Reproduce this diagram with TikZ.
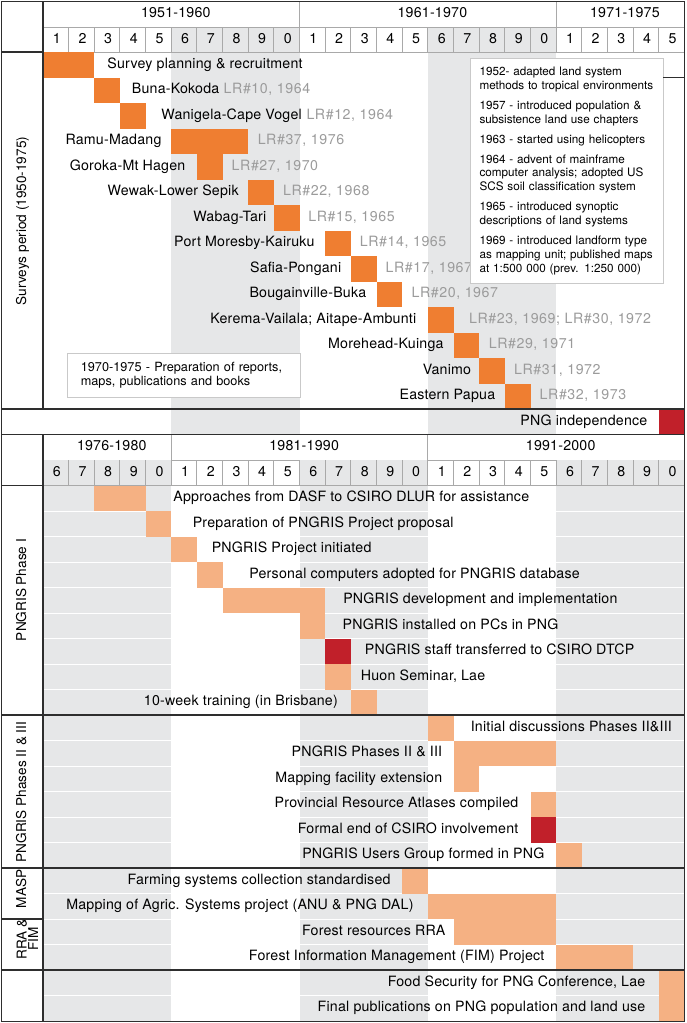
\documentclass[tikz,border=0pt]{standalone}
\usepackage{fontspec}
\setmainfont{TeX Gyre Heros}
\newfontfamily\chartfont[LetterSpace=1.5]{TeX Gyre Heros}
\newfontfamily\reffont[LetterSpace=4]{TeX Gyre Heros}
\usetikzlibrary{positioning}
\definecolor{surveyorange}{HTML}{EF7E31}
\definecolor{eventorange}{HTML}{F5B183}
\definecolor{keyred}{HTML}{C1202A}
\definecolor{bandgrey}{HTML}{E6E7E8}
\definecolor{framegrey}{HTML}{2E2E2E}
\definecolor{cellgrey}{HTML}{A9A9A9}
\definecolor{refgrey}{HTML}{9B9B9B}
\definecolor{boxgrey}{HTML}{C9C9C9}
\tikzset{bar/.style={inner sep=0pt,
                     outer sep=0pt,
                     minimum height=25.5pt,
                     anchor=north west}}
\tikzset{lbl/.style={inner sep=0pt,
                     text height=10.2pt,
                     text depth=3pt,
                     font=\chartfont\fontsize{14.2}{16}\selectfont}}
\tikzset{reflbl/.style={lbl,
                        text=refgrey,
                        font=\reffont\fontsize{14.2}{16}\selectfont}}
\tikzset{period/.style={lbl,
                        rotate=90,
                        font=\fontsize{13.6}{12}\selectfont}}
\tikzset{sectionline/.style={draw=framegrey,line width=1.6pt}}
\tikzset{cell/.style={draw=cellgrey,line width=1pt}}
\tikzset{notebox/.style={draw=boxgrey,
                         fill=white,
                         line width=1pt,
                         align=left}}
\newcommand{\cw}{25.66}

\begin{document}
\begin{tikzpicture}[x=1pt,y=-1pt]
      \useasboundingbox (0,0) rectangle (687,1023);

      % grey bands
      \foreach \ca/\cb in {6/10,16/20}
      \fill[bandgrey] ({43+(\ca-1)*\cw},27) rectangle ({43+\cb*\cw},434.5);
      \foreach \ca/\cb in {1/5,11/15,21/25}
      \fill[bandgrey] ({43+(\ca-1)*\cw},460) rectangle ({43+\cb*\cw},1021.5);

      \foreach \rw in {18,...,37}
      \draw[white,line width=0.6pt] (43,{52+\rw*25.5}) -- (684.5,{52+\rw*25.5});

      % year cells
      \foreach \col in {1,...,26}
      {
      \draw[cell] ({43+(\col-1)*\cw},27) -- ++(0,25);
      \draw[cell] ({43+(\col-1)*\cw},460) -- ++(0,25.5);
      }
      \draw[cell] (43,27) -- (684.5,27);
      \draw[cell] (43,52) -- (684.5,52);
      \draw[cell] ({43+5*\cw},460) -- ({43+10*\cw},460);
      \draw[cell] ({43+15*\cw},460) -- ({43+20*\cw},460);
      \draw[cell] (43,485.5) -- (684.5,485.5);
      \foreach \col in {10,20}
      \draw[cell] ({43+\col*\cw},1.5) -- ++(0,25.5);
      \foreach \col in {5,15}
      \draw[cell] ({43+\col*\cw},434.5) -- ++(0,25.5);

      \foreach \col in {1,...,25}
      {
      \pgfmathtruncatemacro{\dg}{mod(\col,10)}
      \pgfmathtruncatemacro{\dh}{mod(\col+5,10)}
      \node[lbl] (Y\col) at ({43+(\col-0.5)*\cw+1},39.5) {\dg};
      \node[lbl] (Z\col) at ({43+(\col-0.5)*\cw+1},472.75) {\dh};
      }

      % decades
      \foreach \nm/\xc/\yc/\txt in
      {
      D1/175.8/14.2/1951-1960,
      D2/432.4/14.2/1961-1970,
      D3/624.9/14.2/1971-1975,
      E1/111.8/447.25/1976-1980,
      E2/304.1/447.25/1981-1990,
      E3/560.7/447.25/1991-2000
      }
      {
      \node[lbl] (\nm) at (\xc,\yc) {\txt};
      }

      % survey bars
      \foreach \rw/\ca/\cb in {0/1/2, 1/3/3, 2/4/4, 3/6/8, 4/7/7, 5/9/9, 6/10/10,
        7/12/12, 8/13/13, 9/14/14, 10/16/16, 11/17/17, 12/18/18, 13/19/19}
      {
      \node[bar,fill=surveyorange,minimum width={(\cb-\ca+1)*\cw*1pt}] (S\rw)
        at ({43+(\ca-1)*\cw},{52+\rw*25.5}) {};
      }
      \node[bar,fill=keyred,minimum width={\cw*1pt}] (S14) at ({43+24*\cw},{52+14*25.5}) {};

      \foreach \rw/\gap/\txt in
      {
      0/12.9pt/{Survey planning \& recruitment},
      1/11.7pt/Buna-Kokoda,
      2/15.6pt/Wanigela-Cape Vogel
      }
      {
      \node[lbl,right=\gap of S\rw] (SL\rw) {\txt};
      }

      \foreach \rw/\gap/\txt in
      {
      3/9.7pt/Ramu-Madang,
      4/11.4pt/Goroka-Mt Hagen,
      5/9.4pt/Wewak-Lower Sepik,
      6/7.4pt/Wabag-Tari,
      7/10.5pt/Port Moresby-Kairuku,
      8/9.5pt/Safia-Pongani,
      9/10.1pt/Bougainville-Buka,
      10/11.5pt/{Kerema-Vailala; Aitape-Ambunti},
      11/9.9pt/Morehead-Kuinga,
      12/7.9pt/Vanimo,
      13/9.5pt/Eastern Papua,
      14/11.3pt/PNG independence
      }
      {
      \node[lbl,left=\gap of S\rw] (SL\rw) {\txt};
      }

      % land research reports
      \node[reflbl,right=4pt of SL1] (SR1) {LR\#10, 1964};
      \node[reflbl,right=4.3pt of SL2] (SR2) {LR\#12, 1964};
      \foreach \rw/\gap/\txt in
      {
      3/9.3pt/{LR\#37, 1976},
      4/8.9pt/{LR\#27, 1970},
      5/8.9pt/{LR\#22, 1968},
      6/8.5pt/{LR\#15, 1965},
      7/8.8pt/{LR\#14, 1965},
      8/8.9pt/{LR\#17, 1967},
      9/9.2pt/{LR\#20, 1967},
      10/15.4pt/{LR\#23, 1969; LR\#30, 1972},
      11/9.4pt/{LR\#29, 1971},
      12/9.1pt/{LR\#31, 1972},
      13/9pt/{LR\#32, 1973}
      }
      {
      \node[reflbl,right=\gap of S\rw] (SR\rw) {\txt};
      }

      % project bars
      \foreach \rw/\ca/\cb/\fc in {17/3/4/eventorange, 18/5/5/eventorange,
        19/6/6/eventorange, 20/7/7/eventorange, 21/8/11/eventorange,
        22/11/11/eventorange, 23/12/12/keyred, 24/12/12/eventorange,
        25/13/13/eventorange, 26/16/16/eventorange, 27/17/20/eventorange,
        28/17/17/eventorange, 29/20/20/eventorange, 30/20/20/keyred,
        31/21/21/eventorange, 32/15/15/eventorange, 33/16/20/eventorange,
        34/17/20/eventorange, 35/21/23/eventorange, 36/25/25/eventorange,
        37/25/25/eventorange}
      {
      \node[bar,fill=\fc,minimum width={(\cb-\ca+1)*\cw*1pt}] (P\rw)
        at ({43+(\ca-1)*\cw},{52+\rw*25.5}) {};
      }

      \foreach \rw/\gap/\txt in
      {
      17/27.6pt/Approaches from DASF to CSIRO DLUR for assistance,
      18/21.3pt/Preparation of PNGRIS Project proposal,
      19/14.6pt/PNGRIS Project initiated,
      20/26.5pt/Personal computers adopted for PNGRIS database,
      21/17.8pt/PNGRIS development and implementation,
      22/17.2pt/PNGRIS installed on PCs in PNG,
      23/13.8pt/PNGRIS staff transferred to CSIRO DTCP,
      24/9.8pt/{Huon Seminar, Lae},
      26/17pt/Initial discussions Phases II\&III
      }
      {
      \node[lbl,right=\gap of P\rw] (PL\rw) {\txt};
      }

      \foreach \rw/\gap/\txt in
      {
      25/12.9pt/10-week training (in Brisbane),
      27/11.2pt/PNGRIS Phases II \& III,
      28/11.2pt/Mapping facility extension,
      29/12pt/Provincial Resource Atlases compiled,
      30/12pt/Formal end of CSIRO involvement,
      31/11.6pt/PNGRIS Users Group formed in PNG,
      32/11.5pt/Farming systems collection standardised,
      33/14.2pt/Mapping of Agric. Systems project (ANU \& PNG DAL),
      34/7.9pt/Forest resources RRA,
      35/11.6pt/Forest Information Management (FIM) Project,
      36/13.3pt/{Food Security for PNG Conference, Lae},
      37/13.3pt/Final publications on PNG population and land use
      }
      {
      \node[lbl,left=\gap of P\rw] (PL\rw) {\txt};
      }

      % notes
      \node[notebox,anchor=north west,text width=175pt,inner xsep=9pt,inner ysep=8.5pt,
        font=\fontsize{11.7}{13.8}\selectfont] (N1) at (470,58)
      {1952- adapted land system\\methods to tropical environments\\[6.2pt]
      1957 - introduced population \&\\subsistence land use chapters\\[6.2pt]
      1963 - started using helicopters\\[6.2pt]
      1964 - advent of mainframe\\computer analysis; adopted US\\SCS soil classification system\\[6.2pt]
      1965 - introduced synoptic\\descriptions of land systems\\[6.2pt]
      1969 - introduced landform type\\as mapping unit; published maps\\at 1:500 000 (prev. 1:250 000)};

      \node[notebox,anchor=north west,minimum width=233.3pt,minimum height=44pt,
        text width=206pt,inner xsep=13.3pt,font=\fontsize{12.7}{14}\selectfont] (N2) at (66.7,352.7)
      {1970-1975 - Preparation of reports,\\maps, publications and books};

      % periods
      \node[period] (T1) at (22.5,221) {Surveys period (1950-1975)};
      \node[period] (T2) at (22.5,590) {PNGRIS Phase I};
      \node[period] (T3) at (22.5,792) {PNGRIS Phases II \& III};
      \node[period] (T4) at (22.5,889) {MASP};
      \node[rotate=90,align=center,inner sep=0pt,
        font=\fontsize{13.6}{11.5}\selectfont] (T5) at (27.5,939) {RRA \&\\FIM};

      % frame
      \draw[sectionline] (1.5,1.5) rectangle (684.5,1021.5);
      \foreach \yy in {409,434.5,715,868,970}
      \draw[sectionline] (1.5,\yy) -- (684.5,\yy);
      \draw[sectionline] (43,1.5) -- (43,409);
      \draw[sectionline] (43,434.5) -- (43,1021.5);
      \foreach \yy in {52,485.5,919}
      \draw[sectionline] (1.5,\yy) -- (43,\yy);
      \draw[sectionline] (663,77.5) -- (684.5,77.5);

\end{tikzpicture}
\end{document}
